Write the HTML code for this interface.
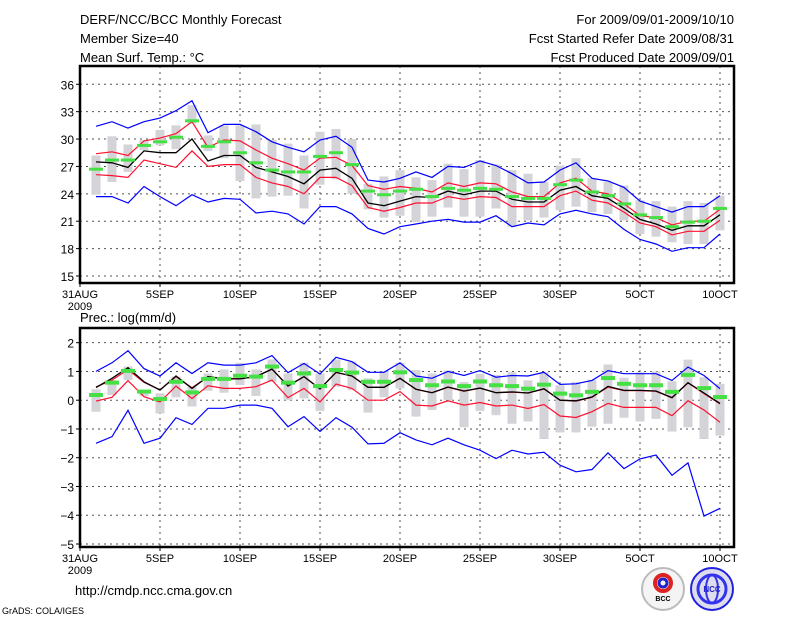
<!DOCTYPE html>
<html><head><meta charset="utf-8"><style>
html,body{margin:0;padding:0;background:#fff;}
svg{display:block;font-family:"Liberation Sans",sans-serif;}
</style></head><body>
<svg id="chart" width="800" height="618" viewBox="0 0 800 618">
<g font-size="13" fill="#000">
<text x="80" y="24">DERF/NCC/BCC Monthly Forecast</text>
<text x="80" y="43">Member Size=40</text>
<text x="80" y="62">Mean Surf. Temp.: °C</text>
<text x="734" y="24" text-anchor="end">For 2009/09/01-2009/10/10</text>
<text x="734" y="43" text-anchor="end">Fcst Started Refer Date 2009/08/31</text>
<text x="734" y="62" text-anchor="end">Fcst Produced Date 2009/09/01</text>
</g>
<text x="80" y="322" font-size="13">Prec.: log(mm/d)</text>
<text x="75" y="595" font-size="13">http://cmdp.ncc.cma.gov.cn</text>
<text x="2" y="614" font-size="9">GrADS: COLA/IGES</text>
<g>
<circle cx="663" cy="589" r="21" fill="#f4f4f4" stroke="#bbb" stroke-width="2"/>
<circle cx="663" cy="583" r="8" fill="none" stroke="#d22" stroke-width="4"/>
<circle cx="663" cy="583" r="4" fill="none" stroke="#22c" stroke-width="3"/>
<text x="663" y="601" font-size="7" text-anchor="middle" font-weight="bold">BCC</text>
</g>
<g>
<circle cx="712" cy="589" r="21" fill="#dde" stroke="#22d" stroke-width="2"/>
<circle cx="712" cy="589" r="14" fill="none" stroke="#33e" stroke-width="3"/>
<ellipse cx="712" cy="589" rx="6" ry="14" fill="none" stroke="#33e" stroke-width="2"/>
<text x="712" y="592" font-size="8" text-anchor="middle" fill="#22c" font-weight="bold">NCC</text>
</g>
</svg>
<script>
// ---- temperature panel data ----
const tBlueHi=[31.4,31.9,31.2,31.9,32.3,33.1,34.2,30.7,31.6,31.6,30.8,29.7,29.1,28.6,29.9,30.3,29.1,25.5,25.3,25.7,26.4,25.8,27.0,26.9,27.6,27.1,26.2,25.2,25.3,26.6,27.4,25.7,25.4,24.7,23.2,22.6,22.0,22.6,22.6,23.8];
const tRedHi=[28.4,28.6,28.2,29.8,30.1,30.6,31.9,29.1,29.9,29.8,28.8,27.9,27.3,26.6,27.9,28.0,27.1,24.9,24.5,24.8,24.6,24.2,25.2,24.8,25.2,25.1,24.2,23.7,23.7,25.2,25.7,24.3,24.0,22.9,21.6,21.4,20.6,21.0,21.0,22.3];
const tMean=[27.5,27.4,26.9,28.7,28.5,28.5,30.0,27.6,28.2,28.2,26.9,26.4,25.9,25.1,26.6,26.8,25.7,23.0,22.7,23.2,23.7,23.6,24.3,23.9,24.3,24.3,23.4,23.1,23.1,24.4,24.8,23.8,23.5,22.4,21.2,20.7,20.0,20.5,20.5,21.7];
const tRedLo=[26.1,26.0,25.8,27.7,27.3,26.9,28.7,27.0,27.2,27.2,25.8,25.2,24.8,24.0,25.8,25.8,24.9,22.5,22.1,22.5,23.0,23.0,23.7,23.4,23.7,23.6,22.6,22.6,22.6,23.8,24.3,23.3,23.0,22.0,20.8,20.4,19.5,19.9,19.9,21.1];
const tBlueLo=[23.7,23.7,23.0,24.8,23.7,22.7,23.9,23.1,23.5,23.4,21.9,22.1,21.8,20.7,22.6,22.6,21.8,20.2,19.6,20.4,20.7,21.0,21.2,20.9,20.9,21.6,20.4,20.8,20.6,21.8,22.2,21.8,21.5,20.1,19.0,18.5,17.7,18.1,18.1,19.6];
const tGreen=[26.7,27.7,27.7,29.3,29.7,30.2,32.0,29.2,29.7,28.5,27.4,26.6,26.4,26.4,28.1,28.5,27.2,24.3,23.9,24.3,24.5,23.7,24.6,24.4,24.6,24.5,23.7,23.5,23.5,25.0,25.5,24.2,23.8,22.9,21.7,21.4,20.4,20.9,21.0,22.4];
const tBarHi=[28.2,30.3,29.4,29.9,31.0,31.5,33.7,30.4,31.5,31.5,31.6,29.9,29.5,28.2,30.8,31.1,30.0,25.1,25.9,26.6,25.8,25.5,27.3,26.7,27.7,27.2,26.6,26.2,25.3,27.1,27.9,25.7,25.3,24.9,23.3,23.2,22.6,23.2,23.0,23.8];
const tBarLo=[23.9,25.3,26.4,28.8,29.3,28.9,31.7,28.7,27.9,25.4,23.5,23.7,23.8,22.4,25.0,25.6,24.0,22.3,21.4,21.6,20.9,21.5,22.5,21.5,21.5,22.4,20.4,21.1,21.4,22.2,22.6,22.0,21.8,21.1,19.6,19.3,18.7,18.5,18.5,20.0];
const tTicks=[15,18,21,24,27,30,33,36];
// ---- precipitation panel data ----
const pBlueHi=[1.0,1.3,1.72,1.1,0.84,1.3,0.93,1.3,1.22,1.22,1.3,1.55,0.96,1.28,0.91,1.49,1.34,0.97,0.97,1.3,0.84,0.76,1.0,0.86,1.03,0.8,0.86,0.84,0.97,0.55,0.57,0.69,1.03,0.92,0.92,0.92,0.69,1.15,0.86,0.4];
const pRedHi=[0.46,0.7,1.06,0.62,0.36,0.82,0.43,0.82,0.75,0.75,0.82,1.08,0.5,0.82,0.4,0.96,0.84,0.45,0.45,0.76,0.38,0.26,0.45,0.31,0.42,0.26,0.28,0.25,0.39,0.0,-0.03,0.1,0.46,0.33,0.33,0.31,0.08,0.6,0.23,-0.13];
const pMean=[0.44,0.76,1.13,0.64,0.35,0.84,0.41,0.82,0.74,0.74,0.82,1.08,0.49,0.82,0.39,0.97,0.84,0.45,0.45,0.76,0.38,0.26,0.46,0.32,0.42,0.26,0.29,0.25,0.4,0.0,-0.02,0.11,0.48,0.34,0.34,0.32,0.09,0.61,0.25,-0.11];
const pRedLo=[-0.03,0.1,0.68,0.12,-0.06,0.49,0.06,0.5,0.41,0.41,0.47,0.7,0.09,0.41,-0.06,0.56,0.41,0.0,0.0,0.3,-0.17,-0.2,-0.02,-0.17,-0.08,-0.2,-0.17,-0.29,-0.15,-0.55,-0.6,-0.4,-0.11,-0.25,-0.25,-0.25,-0.54,-0.02,-0.34,-0.77];
const pBlueLo=[-1.5,-1.27,-0.35,-1.5,-1.32,-0.61,-0.84,-0.28,-0.28,-0.17,-0.17,-0.28,-0.92,-0.57,-1.09,-0.61,-0.94,-1.52,-1.5,-1.13,-1.38,-1.55,-1.32,-1.55,-1.74,-2.03,-1.74,-1.87,-1.81,-2.26,-2.49,-2.41,-1.83,-2.38,-2.04,-1.91,-2.61,-2.18,-4.03,-3.76];
const pGreen=[0.18,0.61,1.02,0.3,0.04,0.64,0.27,0.74,0.74,0.85,0.82,1.17,0.61,0.93,0.49,1.05,0.96,0.64,0.64,0.97,0.7,0.52,0.65,0.49,0.65,0.52,0.49,0.4,0.54,0.23,0.17,0.29,0.77,0.57,0.52,0.52,0.29,0.88,0.42,0.11];
const pBarHi=[0.38,0.7,1.17,0.35,0.24,0.82,0.47,0.93,1.07,1.3,1.07,1.42,0.93,1.3,0.93,1.42,1.34,0.76,1.0,1.3,1.05,0.93,1.03,0.63,0.92,0.88,0.97,0.69,0.97,0.52,0.63,0.71,1.24,0.78,0.97,1.0,0.66,1.41,0.8,0.57];
const pBarLo=[-0.4,0.18,0.7,0.14,-0.46,0.1,-0.22,0.33,0.26,0.53,0.15,0.64,0.0,0.06,-0.37,0.47,0.35,-0.43,0.1,0.41,-0.57,-0.34,0.0,-0.94,-0.37,-0.52,-0.82,-0.74,-1.35,-1.12,-1.12,-0.92,-0.82,-0.61,-0.74,-0.65,-1.09,-0.94,-1.35,-1.23];
const pTicks=[-5,-4,-3,-2,-1,0,1,2];
const xTickDays=[0,5,10,15,20,25,30,35,40];
const xTickLabels=["31AUG","5SEP","10SEP","15SEP","20SEP","25SEP","30SEP","5OCT","10OCT"];

const NS="http://www.w3.org/2000/svg";
const svg=document.getElementById('chart');
function mk(tag,attrs,parent){const e=document.createElementNS(NS,tag);for(const k in attrs)e.setAttribute(k,attrs[k]);(parent||svg).appendChild(e);return e;}
const xOf=d=>80+16*d;

function panel(name,box,yOf,ticks,s){
  const g=mk('g',{});
  
  
  // grid
  ticks.forEach(t=>{const y=yOf(t);
    const l=mk('line',{x1:box.x0,x2:box.x1,y1:y,y2:y,stroke:'#555','stroke-width':1,'stroke-dasharray':'2,4'},g);
    
    
    const tk=mk('line',{x1:box.x0-4,x2:box.x0,y1:y,y2:y,stroke:'#000'},g);
    
    
    const tx=mk('text',{x:box.x0-6,y:y+5,'text-anchor':'end','font-size':12},g);tx.textContent=(t<0?'\u2212'+(-t):t);
    
    
  });
  xTickDays.forEach((d,i)=>{const x=xOf(d);
    if(d>0){const l=mk('line',{x1:x,x2:x,y1:box.y0,y2:box.y1,stroke:'#555','stroke-width':1,'stroke-dasharray':'2,4'},g);
      
      }
    const tk=mk('line',{x1:x,x2:x,y1:box.y1,y2:box.y1+4,stroke:'#000'},g);
    
    
    const tx=mk('text',{x:x,y:box.y1+15,'text-anchor':'middle','font-size':11},g);tx.textContent=xTickLabels[i];
    
    
  });
  const yr=mk('text',{x:80,y:box.y1+27,'text-anchor':'middle','font-size':11},g);yr.textContent='2009';
  
  
  // bars
  s.barHi.forEach((h,i)=>{const d=i+1;const y1=yOf(h),y2=yOf(s.barLo[i]);
    const r=mk('rect',{x:xOf(d)-4.5,y:y1,width:9,height:Math.max(1,y2-y1),fill:'#d3d3d8'},g);
    
    
  });
  const line=(arr,col,w,nm)=>{const p=mk('polyline',{points:arr.map((v,i)=>xOf(i+1)+','+yOf(v).toFixed(1)).join(' '),fill:'none',stroke:col,'stroke-width':w},g);
    
    };
  line(s.blueHi,'#0000ff',1.2,'blue-upper-line');
  line(s.blueLo,'#0000ff',1.2,'blue-lower-line');
  line(s.redHi,'#ff1030',1.2,'red-upper-line');
  line(s.redLo,'#ff1030',1.2,'red-lower-line');
  line(s.mean,'#000',1.3,'ensemble-mean-line');
  s.green.forEach((v,i)=>{const r=mk('rect',{x:xOf(i+1)-7,y:yOf(v)-s.gh/2,width:14,height:s.gh,fill:'#44e044'},g);
    
    });
  const fr=mk('rect',{x:box.x0,y:box.y0,width:box.x1-box.x0,height:box.y1-box.y0,fill:'none',stroke:'#000','stroke-width':2.5},g);
  
  
}
panel('temperature-panel',{x0:80,x1:734,y0:66,y1:283},v=>276-(v-15)*9.13,tTicks,
 {barHi:tBarHi,barLo:tBarLo,blueHi:tBlueHi,blueLo:tBlueLo,redHi:tRedHi,redLo:tRedLo,mean:tMean,green:tGreen,gh:3});
panel('precip-panel',{x0:80,x1:734,y0:328,y1:547},v=>544-(v+5)*28.76,pTicks,
 {barHi:pBarHi,barLo:pBarLo,blueHi:pBlueHi,blueLo:pBlueLo,redHi:pRedHi,redLo:pRedLo,mean:pMean,green:pGreen,gh:4});
</script>
</body></html>
